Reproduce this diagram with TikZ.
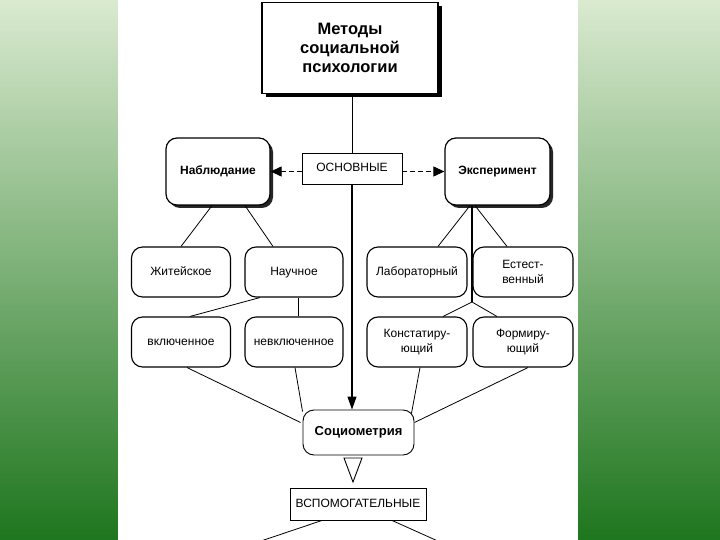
\documentclass[tikz,border=0pt]{standalone}
\usepackage{fontspec}
\setmainfont{Liberation Sans}
\usetikzlibrary{arrows.meta,shadows}
\definecolor{bgtop}{RGB}{218,234,208}
\definecolor{bgmid}{RGB}{140,185,112}
\definecolor{bgbot}{RGB}{30,118,30}
\tikzset{
  box/.style={draw, line width=1.1pt, rounded corners=11pt, fill=white,
    minimum width=99pt, minimum height=50pt, align=center, inner sep=1pt,
    text height=9pt, text depth=2.5pt,
    font=\fontsize{12}{14}\selectfont},
  twoline/.style={text height={}, text depth={}, font=\fontsize{12}{14.5}\selectfont},
  bigbox/.style={box, minimum width=104pt, minimum height=67pt, line width=1.2pt,
    font=\bfseries\fontsize{12}{14}\selectfont,
    drop shadow={shadow xshift=3pt, shadow yshift=-3pt, fill=black!85, opacity=1}},
  titlebox/.style={draw, line width=1.2pt, fill=white, minimum width=176pt,
    minimum height=91pt, align=center, font=\bfseries\fontsize{16.5}{19}\selectfont,
    drop shadow={shadow xshift=3.5pt, shadow yshift=-3.5pt, fill=black, opacity=1}},
  labelbox/.style={draw, line width=0.9pt, fill=white, align=center,
    text height=9pt, text depth=2.5pt,
    font=\fontsize{12}{14}\selectfont, inner sep=1pt},
  thin/.style={line width=0.8pt},
  dasharrow/.style={line width=0.9pt, dash pattern=on 5pt off 3pt,
    -{Triangle[length=11pt,width=10pt]}},
  mainarrow/.style={line width=1.2pt, -{Triangle[length=13pt,width=9pt]}},
}
\begin{document}
\begin{tikzpicture}[x=1pt,y=-1pt]
\useasboundingbox (0,0) rectangle (720,540);
\shade[top color=bgtop, middle color=bgmid, bottom color=bgbot] (0,0) rectangle (720,540);
\fill[white] (118,0) rectangle (578,540);

% nodes
\node[titlebox] (title) at (350,48) {Методы\\социальной\\психологии};
\node[labelbox, minimum width=100pt, minimum height=31pt] (osn) at (352,168.5) {ОСНОВНЫЕ};
\node[bigbox] (nab) at (218,171.5) {Наблюдание};
\node[bigbox, minimum width=105pt] (exp) at (497.5,171.5) {Эксперимент};

\node[box] (zhit) at (181,272) {Житейское};
\node[box, minimum width=98pt] (nauch) at (294,272) {Научное};
\node[box, minimum width=100pt] (lab) at (417,272) {Лабораторный};
\node[box, twoline, minimum width=100pt] (est) at (523,272) {Естест-\\венный};

\node[box] (vkl) at (181,342) {включенное};
\node[box, minimum width=98pt] (nevkl) at (294,342) {невключенное};
\node[box, twoline, minimum width=100pt] (konst) at (417,342) {Констатиру-\\ющий};
\node[box, twoline, minimum width=100pt] (form) at (523,342) {Формиру-\\ющий};

\node[box, minimum width=111pt, minimum height=45pt, line width=0.9pt,
  font=\bfseries\fontsize{13}{15}\selectfont] (soc) at (358.5,432.5) {Социометрия};
\node[labelbox, minimum width=136pt, minimum height=32pt] (vsp) at (358,504) {ВСПОМОГАТЕЛЬНЫЕ};

\coordinate (br) at (472,302);
\coordinate (endl) at (258,542);
\coordinate (endr) at (440,542);

% connectors
\draw[thin] (osn.north |- title.south) -- (osn.north);
\draw[mainarrow] (osn.south) -- (osn.south |- soc.north);
\draw[dasharrow] ([yshift=-3pt]osn.west) -- ([yshift=-3pt]osn.west -| nab.east);
\draw[dasharrow] ([yshift=-3pt]osn.east) -- ([yshift=-3pt]osn.east -| exp.west);

\draw[thin] ([xshift=-6pt]nab.south) -- (zhit.north);
\draw[thin] ([xshift=27pt]nab.south) -- ([xshift=-21pt]nauch.north);
\draw[thin] ([xshift=-27.5pt]exp.south) -- ([xshift=21pt]lab.north);
\draw[thin] ([xshift=-22.5pt]exp.south) -- ([xshift=-16pt]est.north);
\draw[line width=1.3pt] ([xshift=-25.5pt]exp.south) -- (br);
\draw[thin] (br) -- ([xshift=26pt]konst.north);
\draw[thin] (br) -- ([xshift=-26pt]form.north);

\draw[thin] ([xshift=-34pt]nauch.south) -- ([xshift=9pt]vkl.north);
\draw[thin] ([xshift=4pt]nauch.south) -- ([xshift=4pt]nevkl.north);

\draw[thin] ([xshift=6pt]vkl.south) -- ([xshift=-2pt,yshift=10pt]soc.west);
\draw[thin] ([xshift=1pt]nevkl.south) -- ([yshift=-2pt]soc.north west);
\draw[thin] ([xshift=3pt]konst.south) -- ([xshift=-3pt,yshift=-4pt]soc.north east);
\draw[thin] ([xshift=5pt]form.south) -- ([yshift=10pt]soc.east);

% hollow triangle below Социометрия
\draw[line width=0.9pt, fill=white] (344,458) -- (362,458) -- (353,482) -- cycle;

\draw[thin] ([xshift=-36pt]vsp.south) -- (endl);
\draw[thin] ([xshift=34pt]vsp.south) -- (endr);
\end{tikzpicture}
\end{document}
